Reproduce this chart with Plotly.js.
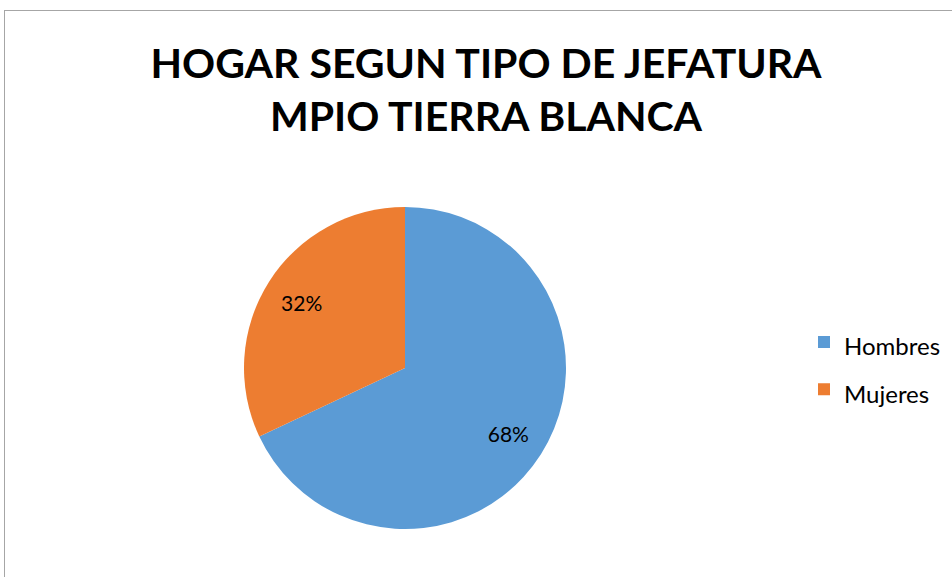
<!DOCTYPE html>
<html>
<head>
<meta charset="utf-8">
<script src="https://cdn.plot.ly/plotly-3.0.1.min.js"></script>
<style>
  html, body { margin: 0; padding: 0; background: #ffffff; }
  #wrap { position: relative; width: 952px; height: 577px; overflow: hidden; }
  #frame { position: absolute; left: 4px; top: 10px; width: 960px; height: 580px;
           border-left: 1.5px solid #a6a6a6; border-top: 1.5px solid #a6a6a6; pointer-events: none; z-index: 5; }
  #chart { position: absolute; left: 0; top: 0; width: 952px; height: 577px; }
</style>
</head>
<body>
<div id="wrap">
  <div id="chart"></div>
  <div id="frame"></div>
</div>
<script>
const categories = ["Hombres", "Mujeres"];
const values = [68, 32];
const colors = ["#5B9BD5", "#ED7D31"];
const titleText = "HOGAR SEGUN TIPO DE JEFATURA<br>MPIO TIERRA BLANCA";

const W = 952, H = 577;
const cx = 405, cy = 368, r = 161;
const pieDomain = { x: [(cx - r) / W, (cx + r) / W], y: [(H - cy - r) / H, (H - cy + r) / H] };
const legendLabels = categories.map(c => '<span style="font-size:24px">' + c + '</span>');

const data = [
  {
    type: "pie",
    labels: legendLabels,
    values: values,
    marker: { colors: colors, line: { width: 0 } },
    sort: false,
    direction: "clockwise",
    rotation: 0,
    textinfo: "none",
    hoverinfo: "none",
    domain: pieDomain
  },
  {
    type: "pie",
    labels: legendLabels,
    values: values,
    hole: 0.52,
    marker: { colors: ["rgba(0,0,0,0)", "rgba(0,0,0,0)"], line: { width: 0 } },
    sort: false,
    direction: "clockwise",
    rotation: 0,
    showlegend: false,
    texttemplate: "%{percent:.0%}",
    textposition: "inside",
    insidetextorientation: "horizontal",
    textfont: { family: "Lato, 'Open Sans', sans-serif", size: 21, color: "#000000" },
    hoverinfo: "none",
    domain: pieDomain
  }
];

const layout = {
  width: W, height: H,
  margin: { l: 0, r: 0, t: 0, b: 0 },
  paper_bgcolor: "#ffffff",
  font: { family: "Lato, 'Open Sans', sans-serif", color: "#000000" },
  title: {
    text: titleText,
    font: { family: "Lato, sans-serif", size: 41, weight: 700, color: "#000000" },
    x: 486 / W, xanchor: "center",
    y: 1 - 78 / H, yanchor: "top", yref: "container"
  },
  showlegend: true,
  legend: {
    x: 804 / W, xanchor: "left",
    y: 1 - 366 / H, yanchor: "middle",
    font: { family: "Lato, 'Open Sans', sans-serif", size: 34, color: "#000000" },
    itemwidth: 30,
    bgcolor: "rgba(0,0,0,0)"
  }
};

Plotly.newPlot("chart", data, layout, { displayModeBar: false, staticPlot: true });
</script>
</body>
</html>
